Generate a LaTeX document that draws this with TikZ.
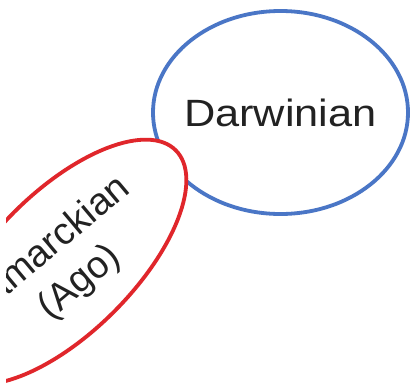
\documentclass[tikz,border=0pt]{standalone}
\usepackage{fontspec}
\setmainfont{Liberation Sans}
\usetikzlibrary{shapes.geometric}
\definecolor{dblue}{HTML}{4A76C6}
\definecolor{lred}{HTML}{E0262B}
\definecolor{txt}{HTML}{222222}
\tikzset{
  oval/.style={ellipse, inner sep=0pt, line width=3.8pt},
  lbl/.style={text=txt, font=\fontsize{38}{47}\selectfont, align=center, inner sep=0pt}
}
\begin{document}
\begin{tikzpicture}[x=1pt, y=-1pt]
\useasboundingbox (0,0) rectangle (414,388);
\fill[white] (0,0) rectangle (414,388);
\begin{scope}
\clip (6,0) rectangle (414,382);
\node[oval, draw=dblue, minimum width=255pt, minimum height=203pt] (darwin) at (280.5,112.5) {};
\node[lbl] (dtext) at (darwin.center) {\scalebox{1.14}[1]{Darwinian}};
\node[oval, draw=lred, fill=white, rotate=45, minimum width=316pt, minimum height=141pt] (lam) at (64,262) {};
\node[lbl, rotate=40] (ltext) at ([shift={(1,3)}]lam.center) {Lamarckian\\(Ago)};
\end{scope}
\end{tikzpicture}
\end{document}
